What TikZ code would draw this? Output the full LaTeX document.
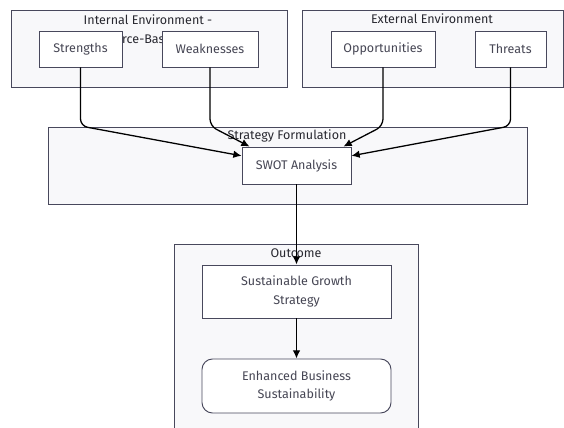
\documentclass[tikz,border=0pt]{standalone}
\usepackage{fontspec}
\setmainfont{Fira Sans}
\usepackage{tikz}
\usetikzlibrary{positioning,arrows.meta,fit,calc}

\definecolor{grpfill}{RGB}{248,248,250}
\definecolor{edgeclr}{RGB}{72,72,92}
\definecolor{txtclr}{RGB}{70,70,84}
\definecolor{ttlclr}{RGB}{40,40,48}

\begin{document}
\begin{tikzpicture}[x=0.03cm,y=-0.03cm,
    font=\fontsize{10.7}{15.5}\selectfont,
    grp/.style={draw=edgeclr,fill=grpfill,line width=0.8pt,inner sep=0pt},
    ttl/.style={text=ttlclr,inner sep=0pt,align=center},
    box/.style={draw=edgeclr,fill=white,text=txtclr,line width=0.8pt,align=center,inner sep=2pt},
    flow/.style={-{Latex[length=7pt,width=6.5pt]},line width=1.1pt,rounded corners=6pt}]
     \useasboundingbox (0,0) rectangle (564,428);

     % groups
     \coordinate (i1) at (11,10);  \coordinate (i2) at (287,87);
     \coordinate (e1) at (302,10); \coordinate (e2) at (563,87);
     \coordinate (s1) at (48,127); \coordinate (s2) at (527,204);
     \coordinate (o1) at (174,244); \coordinate (o2) at (418,450);
     \node[grp,fit=(i1) (i2)] (intenv) {};
     \node[grp,fit=(e1) (e2)] (extenv) {};
     \node[grp,fit=(s1) (s2)] (stratf) {};
     \node[grp,fit=(o1) (o2)] (outc) {};

     \node[ttl,font=\fontsize{10.7}{16}\selectfont] at (148,29.5) {Internal Environment -\\Resource-Based View};
     \node[ttl] at (432,19) {External Environment};
     \node[ttl] at (287,136) {Strategy Formulation};
     \node[ttl] at (296,253) {Outcome};

     % nodes
     \node[box,minimum width=83*0.03cm,minimum height=36*0.03cm] (str) at (80.5,49) {Strengths};
     \node[box,minimum width=96*0.03cm,minimum height=36*0.03cm] (weak) at (210,49) {Weaknesses};
     \node[box,minimum width=104*0.03cm,minimum height=36*0.03cm] (opp) at (383,49) {Opportunities};
     \node[box,minimum width=71*0.03cm,minimum height=36*0.03cm] (thr) at (510.5,49) {Threats};
     \node[box,minimum width=109*0.03cm,minimum height=37*0.03cm] (swot) at (296.5,165.5) {SWOT Analysis};
     \node[box,minimum width=189*0.03cm,minimum height=53*0.03cm] (sgs) at (296.5,291.5) {Sustainable Growth\\Strategy};
     \node[box,rounded corners=9pt,minimum width=189*0.03cm,minimum height=54*0.03cm] (ebs) at (296.5,386) {Enhanced Business\\Sustainability};

     % connectors
     \coordinate (bend) at (0,126);
     \draw[flow] (str.south) -- (str.south |- bend) -- (swot.170);
     \draw[flow] (weak.south) -- (weak.south |- bend) -- (swot.158);
     \draw[flow] (opp.south) -- (opp.south |- bend) -- (swot.22);
     \draw[flow] (thr.south) -- (thr.south |- bend) -- (swot.10);
     \draw[flow] (swot) -- (sgs);
     \draw[flow] (sgs) -- (ebs);
\end{tikzpicture}
\end{document}
